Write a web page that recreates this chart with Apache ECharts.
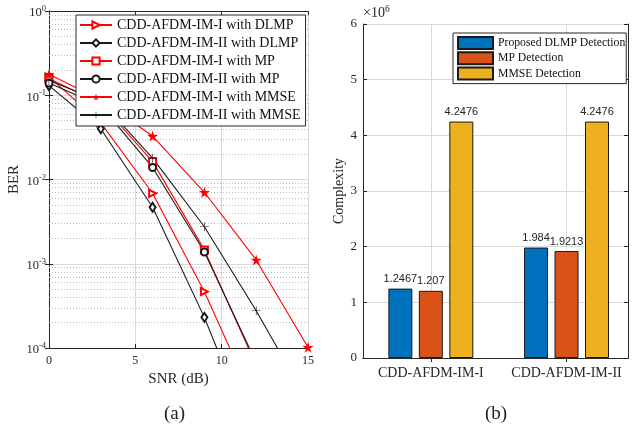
<!DOCTYPE html>
<html><head><meta charset="utf-8">
<script src="https://cdn.jsdelivr.net/npm/echarts@6/dist/echarts.min.js"></script>
<style>html,body{margin:0;padding:0;background:#fff}#c{width:633px;height:424px}</style>
</head><body><div id="c"></div>
<script>
// ---- Data (a): BER vs SNR ----
const snr = [0, 3, 6, 9, 12, 15];
const berIdlmp  = [0.165, 0.047, 6.86e-3, 4.66e-4, 2.0e-5];
const berIIdlmp = [0.130, 0.040, 4.68e-3, 2.31e-4, 6.8e-6];
const berImp    = [0.158, 0.080, 1.63e-2, 1.46e-3, 6.2e-5];
const berIImp   = [0.140, 0.075, 1.39e-2, 1.38e-3, 6.7e-5];
const berImmse  = [0.178, 0.088, 3.28e-2, 7.05e-3, 1.11e-3, 1.02e-4];
const berIImmse = [0.150, 0.085, 1.79e-2, 2.75e-3, 2.77e-4, 2.3e-5];
const berNames = ['CDD-AFDM-IM-I with DLMP','CDD-AFDM-IM-II with DLMP','CDD-AFDM-IM-I with MP',
  'CDD-AFDM-IM-II with MP','CDD-AFDM-IM-I with MMSE','CDD-AFDM-IM-II with MMSE'];

// ---- Data (b): complexity (x10^6) ----
const schemes = ['CDD-AFDM-IM-I', 'CDD-AFDM-IM-II'];
const dlmpCx = [1.2467, 1.984];
const mpCx   = [1.207, 1.9213];
const mmseCx = [4.2476, 4.2476];
const detNames = ['Proposed DLMP Detection', 'MP Detection', 'MMSE Detection'];

const SERIF = '"Liberation Serif", "Times New Roman", serif';
const AX = '#262626';
const RED = '#ff0000', BLK = '#1a1a1a';
const STAR = 'path://M50,0 L61,35 L98,35 L68,57 L79,91 L50,70 L21,91 L32,57 L2,35 L39,35 Z';
const PLUS = 'path://M9.3,0 H10.7 V9.3 H20 V10.7 H10.7 V20 H9.3 V10.7 H0 V9.3 H9.3 Z';

const minorVals = [];
for (let e = -4; e <= -1; e++) for (let k = 2; k <= 9; k++) minorVals.push(k * Math.pow(10, e));

function pair(xs, ys) { return ys.map((y, i) => [xs[i], y]); }

const berSets = [
  {d: berIdlmp, c: RED, s: 'emptyTriangle', r: -90},
  {d: berIIdlmp, c: BLK, s: 'emptyDiamond', r: 0},
  {d: berImp, c: RED, s: 'emptyRect', r: 0},
  {d: berIImp, c: BLK, s: 'emptyCircle', r: 0},
  {d: berImmse, c: RED, s: STAR, r: 0},
  {d: berIImmse, c: BLK, s: PLUS, r: 0}
];

const series = berSets.map((b, i) => ({
  name: berNames[i], type: 'line', xAxisIndex: 0, yAxisIndex: 0,
  data: pair(snr, b.d), symbol: b.s, symbolRotate: b.r,
  symbolSize: b.s === STAR ? 11 : (b.s === 'emptyDiamond' ? [6, 9] : (b.s === PLUS ? 9 : 7)),
  lineStyle: {color: b.c, width: 1.1}, itemStyle: {color: b.c, borderWidth: 1},
  clip: true, animation: false, z: 3
}));
series[0].markLine = {
  silent: true, symbol: 'none', z: 1, animation: false, precision: 12,
  label: {show: false},
  lineStyle: {color: '#bcbcbc', type: [1, 2], width: 1},
  data: minorVals.map(v => ({yAxis: v}))
};

const cxSets = [dlmpCx, mpCx, mmseCx];
const barColors = ['#0072BD', '#D95319', '#EDB120'];
cxSets.forEach((arr, j) => {
  series.push({
    name: detNames[j], type: 'bar', xAxisIndex: 2, yAxisIndex: 2,
    data: arr.map((v, i) => [i + 1, v]), barWidth: 24, barGap: '27%',
    itemStyle: {color: barColors[j], borderColor: '#1a1a1a', borderWidth: 1},
    label: {show: true, position: 'top', distance: 4, formatter: p => String(p.value[1]),
      fontFamily: '"Liberation Sans", Arial, sans-serif', fontSize: 11, color: AX},
    animation: false
  });
});

const tickIn = {show: true, inside: true, length: 4, lineStyle: {color: AX}};
const axLine = {show: true, lineStyle: {color: AX, width: 1}};
const grid = {show: true, lineStyle: {color: '#d9d9d9', width: 1}};

const option = {
  backgroundColor: '#fff',
  animation: false,
  title: [
    {text: '(a)', left: 159, top: 400, textStyle: {fontFamily: SERIF, fontSize: 19, fontWeight: 'normal', color: '#222'}},
    {text: '(b)', left: 480, top: 400, textStyle: {fontFamily: SERIF, fontSize: 19, fontWeight: 'normal', color: '#222'}}
  ],
  grid: [
    {left: 49, top: 11, width: 259, height: 337, containLabel: false},
    {left: 363, top: 24, width: 265, height: 334, containLabel: false}
  ],
  legend: [
    {data: berNames, orient: 'vertical', left: 76, top: 15, padding: [2, 5, 3, 3],
      itemWidth: 32, itemHeight: 9, itemGap: 2, borderColor: AX, borderWidth: 1,
      backgroundColor: '#fff', z: 20,
      textStyle: {fontFamily: SERIF, fontSize: 14, color: '#111', lineHeight: 16}},
    {data: detNames, orient: 'vertical', left: 453, top: 33, padding: [3, 1, 3, 4],
      itemWidth: 35, itemHeight: 12, itemGap: 1.3, borderColor: AX, borderWidth: 1,
      backgroundColor: '#fff', z: 20, icon: 'rect',
      textStyle: {fontFamily: SERIF, fontSize: 11.7, color: '#111', lineHeight: 13}}
  ],
  xAxis: [
    {type: 'value', gridIndex: 0, min: 0, max: 15, interval: 5, position: 'bottom',
      axisLine: axLine, axisTick: tickIn, splitLine: grid,
      axisLabel: {fontFamily: SERIF, fontSize: 12, color: AX, margin: 7},
      name: 'SNR (dB)', nameLocation: 'middle', nameGap: 22,
      nameTextStyle: {fontFamily: SERIF, fontSize: 15, color: AX}},
    {type: 'value', gridIndex: 0, min: 0, max: 15, interval: 5, position: 'top',
      axisLine: axLine, axisTick: tickIn, splitLine: {show: false}, axisLabel: {show: false}},
    {type: 'value', gridIndex: 1, min: 0.5, max: 2.453, position: 'bottom',
      axisLine: axLine,
      axisTick: Object.assign({}, tickIn, {customValues: [1, 2]}),
      splitLine: grid,
      axisLabel: {customValues: [1, 2], formatter: v => schemes[Math.round(v) - 1],
        fontFamily: SERIF, fontSize: 14, color: AX, margin: 8}},
    {type: 'value', gridIndex: 1, min: 0.5, max: 2.453, position: 'top',
      axisLine: axLine,
      axisTick: Object.assign({}, tickIn, {customValues: [1, 2]}),
      splitLine: {show: false}, axisLabel: {show: false}}
  ],
  yAxis: [
    {type: 'log', gridIndex: 0, logBase: 10, min: 1e-4, max: 1, position: 'left',
      axisLine: axLine, axisTick: tickIn, splitLine: grid,
      axisLabel: {margin: 3, formatter: v => '{b|10}{s|' + Math.round(Math.log10(v)) + '}',
        rich: {b: {fontFamily: SERIF, fontSize: 12.5, color: AX, padding: [4, 0, 0, 0]},
               s: {fontFamily: SERIF, fontSize: 8.5, color: AX, padding: [0, 0, 4, 0]}}},
      name: 'BER', nameLocation: 'middle', nameGap: 27, nameRotate: 90,
      nameTextStyle: {fontFamily: SERIF, fontSize: 15, color: AX}},
    {type: 'log', gridIndex: 0, logBase: 10, min: 1e-4, max: 1, position: 'right',
      axisLine: axLine, axisTick: tickIn, splitLine: {show: false}, axisLabel: {show: false}},
    {type: 'value', gridIndex: 1, min: 0, max: 6, interval: 1, position: 'left',
      axisLine: axLine, axisTick: tickIn, splitLine: grid,
      axisLabel: {fontFamily: SERIF, fontSize: 13, color: AX, margin: 6},
      name: 'Complexity', nameLocation: 'middle', nameGap: 17, nameRotate: 90,
      nameTextStyle: {fontFamily: SERIF, fontSize: 14, color: AX}},
    {type: 'value', gridIndex: 1, min: 0, max: 6, interval: 1, position: 'right',
      axisLine: axLine, axisTick: tickIn, splitLine: {show: false}, axisLabel: {show: false},
      name: '{a|×10}{b|6}', nameLocation: 'end', nameGap: 2,
      nameTextStyle: {align: 'left', padding: [0, 0, 0, -265],
        rich: {a: {fontFamily: SERIF, fontSize: 14, color: AX},
               b: {fontFamily: SERIF, fontSize: 9.5, color: AX, padding: [0, 0, 8, 0]}}}}
  ],
  series: series
};

const chart = echarts.init(document.getElementById('c'), null, {renderer: 'canvas', width: 633, height: 424});
chart.setOption(option);
</script>
</body></html>
